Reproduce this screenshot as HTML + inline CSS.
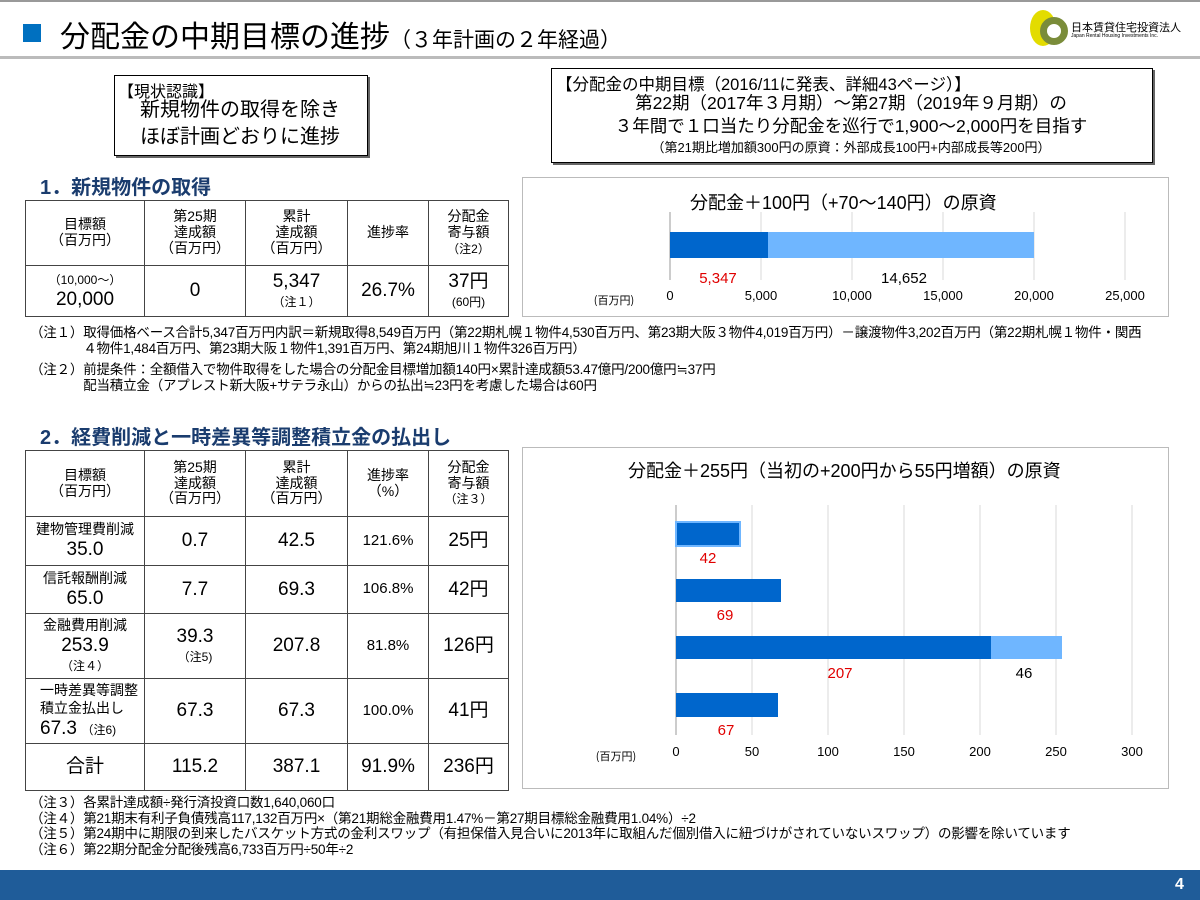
<!DOCTYPE html><html><head><meta charset="utf-8"><style>
body{margin:0;width:1200px;height:900px;position:relative;background:#fff;font-family:"Liberation Sans","Noto Sans CJK JP",sans-serif;color:#000;overflow:hidden}
.a{position:absolute;white-space:nowrap}
table{position:absolute;border-collapse:collapse;table-layout:fixed}
td{border:1px solid #444;text-align:center;vertical-align:middle;padding:0;line-height:1.12}
.s{font-size:14px}.m{font-size:19px}.x{font-size:12px}
.h2{color:#1a3c6e;font-weight:bold;font-size:20px}
.note{font-size:13.5px;line-height:15.5px;letter-spacing:-0.2px}
</style></head><body>
<div class="a" style="left:0;top:0;width:1200px;height:2px;background:#999"></div>
<div class="a" style="left:23px;top:24px;width:18px;height:18px;background:#0070c0"></div>
<div class="a" style="left:60px;top:12px;font-size:30px;">分配金の中期目標の進捗<span style="font-size:21px">（３年計画の２年経過）</span></div>
<div class="a" style="left:1030px;top:10px;width:26px;height:36px;border-radius:50%;background:#e3dc00"></div>
<div class="a" style="left:1040px;top:17px;width:14px;height:14px;border-radius:50%;border:7px solid #7a8c3a;background:#fff"></div>
<div class="a" style="left:1071px;top:19px;font-size:11px">日本賃貸住宅投資法人</div>
<div class="a" style="left:1071px;top:33px;font-size:5px">Japan Rental Housing Investments Inc.</div>
<div class="a" style="left:0;top:56px;width:1200px;height:3px;background:#bbb"></div>
<div class="a" style="left:114px;top:75px;width:252px;height:79px;border:1px solid #000;box-shadow:2px 2px 0 #666"></div>
<div class="a" style="left:118px;top:78px;font-size:16px">【現状認識】</div>
<div class="a" style="left:140px;top:97px;font-size:20px;line-height:27px">新規物件の取得を除き<br>ほぼ計画どおりに進捗</div>
<div class="a" style="left:551px;top:68px;width:600px;height:93px;border:1px solid #000;box-shadow:2px 2px 0 #666"></div>
<div class="a" style="left:556px;top:71px;font-size:16.5px">【分配金の中期目標（2016/11に発表、詳細43ページ）】</div>
<div class="a" style="left:551px;width:600px;top:92px;text-align:center;font-size:17.5px;line-height:23px">第22期（2017年３月期）～第27期（2019年９月期）の<br>３年間で１口当たり分配金を巡行で1,900～2,000円を目指す</div>
<div class="a" style="left:551px;width:600px;text-align:center;top:137px;font-size:13px">（第21期比増加額300円の原資：外部成長100円+内部成長等200円）</div>

<div class="a h2" style="left:40px;top:171px">1．新規物件の取得</div>
<table style="left:25px;top:200px;width:483px"><colgroup><col style="width:119px"><col style="width:101px"><col style="width:102px"><col style="width:81px"><col style="width:80px"></colgroup>
<tr style="height:65px" class="s"><td>目標額<br>（百万円）</td><td>第25期<br>達成額<br>（百万円）</td><td>累計<br>達成額<br>（百万円）</td><td>進捗率</td><td>分配金<br>寄与額<br><span class="x">（注2）</span></td></tr>
<tr style="height:51px"><td><span class="x">（10,000～）</span><br><span class="m">20,000</span></td><td class="m">0</td><td><span class="m">5,347</span><br><span class="x">（注１）</span></td><td class="m">26.7%</td><td><span class="m">37円</span><br><span class="x">(60円)</span></td></tr></table>

<div class="a" style="left:522px;top:177px;width:645px;height:138px;border:1px solid #bbb"></div>
<div class="a" style="left:690px;top:189px;font-size:18px">分配金＋100円（+70～140円）の原資</div>
<svg class="a" style="left:0;top:0" width="1200" height="900">
<g stroke="#d9d9d9"><line x1="761" y1="212" x2="761" y2="280"/><line x1="852" y1="212" x2="852" y2="280"/><line x1="943" y1="212" x2="943" y2="280"/><line x1="1034" y1="212" x2="1034" y2="280"/><line x1="1125" y1="212" x2="1125" y2="280"/></g>
<line x1="670" y1="212" x2="670" y2="280" stroke="#999"/>
<rect x="670" y="232" width="98" height="26" fill="#0066cc"/><rect x="768" y="232" width="266" height="26" fill="#6fb6ff"/>
<g font-size="13" text-anchor="middle" font-family="Liberation Sans"><text x="670" y="300">0</text><text x="761" y="300">5,000</text><text x="852" y="300">10,000</text><text x="943" y="300">15,000</text><text x="1034" y="300">20,000</text><text x="1125" y="300">25,000</text>
<text x="614" y="304" font-family="Noto Sans CJK JP" font-size="11">(百万円)</text>
<text x="718" y="283" fill="#e00000" font-size="15">5,347</text><text x="904" y="283" font-size="15">14,652</text>
<g stroke="#d9d9d9"><line x1="752" y1="505" x2="752" y2="735"/><line x1="828" y1="505" x2="828" y2="735"/><line x1="904" y1="505" x2="904" y2="735"/><line x1="980" y1="505" x2="980" y2="735"/><line x1="1056" y1="505" x2="1056" y2="735"/><line x1="1132" y1="505" x2="1132" y2="735"/></g>
<line x1="676" y1="505" x2="676" y2="735" stroke="#999"/>
<rect x="676" y="522" width="64" height="24" fill="#0066cc" stroke="#6fb6ff" stroke-width="2"/>
<rect x="676" y="579" width="105" height="23" fill="#0066cc"/>
<rect x="676" y="636" width="315" height="23" fill="#0066cc"/><rect x="991" y="636" width="71" height="23" fill="#6fb6ff"/>
<rect x="676" y="693" width="102" height="24" fill="#0066cc"/>
<g font-size="15"><text x="708" y="563" fill="#e00000">42</text><text x="725" y="620" fill="#e00000">69</text><text x="840" y="678" fill="#e00000">207</text><text x="1024" y="678">46</text><text x="726" y="735" fill="#e00000">67</text></g>
<text x="676" y="756">0</text><text x="752" y="756">50</text><text x="828" y="756">100</text><text x="904" y="756">150</text><text x="980" y="756">200</text><text x="1056" y="756">250</text><text x="1132" y="756">300</text>
<text x="616" y="760" font-family="Noto Sans CJK JP" font-size="11">(百万円)</text></g>
</svg>
<div class="a note" style="left:30px;top:325px">（注１）取得価格ベース合計5,347百万円内訳＝新規取得8,549百万円（第22期札幌１物件4,530百万円、第23期大阪３物件4,019百万円）－譲渡物件3,202百万円（第22期札幌１物件・関西<br>　　　　４物件1,484百万円、第23期大阪１物件1,391百万円、第24期旭川１物件326百万円）</div>
<div class="a note" style="left:30px;top:362px">（注２）前提条件：全額借入で物件取得をした場合の分配金目標増加額140円×累計達成額53.47億円/200億円≒37円<br>　　　　配当積立金（アプレスト新大阪+サテラ永山）からの払出≒23円を考慮した場合は60円</div>

<div class="a h2" style="left:40px;top:421px">2．経費削減と一時差異等調整積立金の払出し</div>
<table style="left:25px;top:450px;width:483px"><colgroup><col style="width:119px"><col style="width:101px"><col style="width:102px"><col style="width:81px"><col style="width:80px"></colgroup>
<tr style="height:66px" class="s"><td>目標額<br>（百万円）</td><td>第25期<br>達成額<br>（百万円）</td><td>累計<br>達成額<br>（百万円）</td><td>進捗率<br>（%）</td><td>分配金<br>寄与額<br><span class="x">（注３）</span></td></tr>
<tr style="height:49px"><td><span class="s">建物管理費削減</span><br><span class="m">35.0</span></td><td class="m">0.7</td><td class="m">42.5</td><td style="font-size:15px">121.6%</td><td class="m">25円</td></tr>
<tr style="height:48px"><td><span class="s">信託報酬削減</span><br><span class="m">65.0</span></td><td class="m">7.7</td><td class="m">69.3</td><td style="font-size:15px">106.8%</td><td class="m">42円</td></tr>
<tr style="height:65px"><td><span class="s">金融費用削減</span><br><span class="m">253.9</span><br><span class="x">（注４）</span></td><td><span class="m">39.3</span><br><span class="x">（注5)</span></td><td class="m">207.8</td><td style="font-size:15px">81.8%</td><td class="m">126円</td></tr>
<tr style="height:65px"><td style="text-align:left;padding-left:14px"><span class="s">一時差異等調整<br>積立金払出し</span><br><span class="m">67.3</span> <span class="x">（注6)</span></td><td class="m">67.3</td><td class="m">67.3</td><td style="font-size:15px">100.0%</td><td class="m">41円</td></tr>
<tr style="height:47px"><td class="m">合計</td><td class="m">115.2</td><td class="m">387.1</td><td class="m">91.9%</td><td class="m">236円</td></tr></table>

<div class="a" style="left:522px;top:447px;width:645px;height:340px;border:1px solid #bbb"></div>
<div class="a" style="left:628px;top:457px;font-size:18px">分配金＋255円（当初の+200円から55円増額）の原資</div>
<div class="a note" style="left:30px;top:795px">（注３）各累計達成額÷発行済投資口数1,640,060口<br>（注４）第21期末有利子負債残高117,132百万円×（第21期総金融費用1.47%－第27期目標総金融費用1.04%）÷2<br>（注５）第24期中に期限の到来したバスケット方式の金利スワップ（有担保借入見合いに2013年に取組んだ個別借入に紐づけがされていないスワップ）の影響を除いています<br>（注６）第22期分配金分配後残高6,733百万円÷50年÷2</div>
<div class="a" style="left:0;top:870px;width:1200px;height:30px;background:#1f5c99"></div>
<div class="a" style="left:1175px;top:876px;color:#fff;font-weight:bold;font-size:16px">4</div>
</body></html>
